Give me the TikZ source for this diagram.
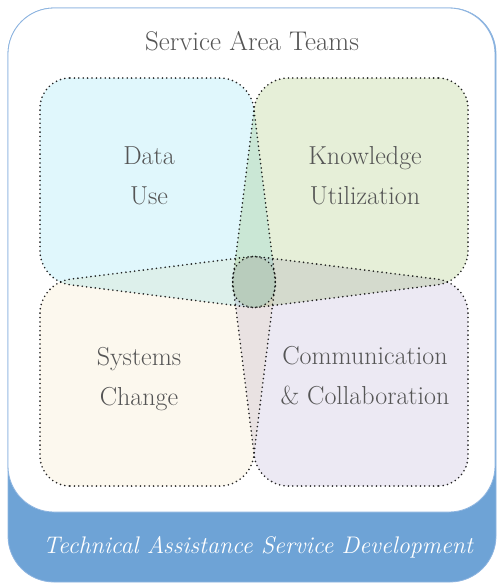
\documentclass[tikz,border=0pt]{standalone}
\usepackage{tikz}
\definecolor{band}{HTML}{6EA3D6}
\definecolor{rim}{HTML}{8DB4E0}
\definecolor{ink}{HTML}{555555}
\definecolor{datafill}{HTML}{E0F7FC}
\definecolor{knowfill}{HTML}{E6EFD8}
\definecolor{sysfill}{HTML}{FCF8EE}
\definecolor{commfill}{HTML}{ECE9F3}
\tikzset{
  frame/.style={fill=band, draw=rim, line width=0.8pt, rounded corners=46pt},
  panel/.style={fill=white, draw=rim, line width=0.8pt, rounded corners=46pt},
  petal/.style={draw=black!85, line width=1.8pt, line cap=round, dash pattern=on 0pt off 4.4pt, rounded corners=30pt},
  lab/.style={text=ink, font=\fontsize{26}{40}\selectfont, align=center, inner sep=0pt},
  head/.style={text=ink, font=\fontsize{27}{32}\selectfont, inner sep=0pt},
  foot/.style={text=white, font=\fontsize{24}{30}\selectfont\itshape, inner sep=0pt},
}

\begin{document}
\begin{tikzpicture}[x=1pt,y=-1pt]
  \useasboundingbox (0,0) rectangle (497,584);
  \draw[frame] (8,8) rectangle (496,582);
  \draw[panel] (8,8) rectangle (495,512);
  \node[head,anchor=base] (title) at (252,50) {Service Area Teams};
  \begin{scope}[blend group=multiply]
    \draw[petal,fill=datafill] (40,78)--(250,78)--(279,311)--(40,281)--cycle;
    \draw[petal,fill=knowfill] (468,78)--(258,78)--(229,311)--(468,281)--cycle;
    \draw[petal,fill=sysfill] (40,486)--(250,486)--(279,253)--(40,283)--cycle;
    \draw[petal,fill=commfill] (468,486)--(258,486)--(229,253)--(468,283)--cycle;
  \end{scope}
  \foreach \N/\X/\Y/\T in {data/149/176/{Data\\Use},
      know/365/176/{Knowledge\\Utilization},
      sys/139/379/{Systems\\Change},
      comm/365/376/{Communication\\\& Collaboration}}
    \node[lab] (\N) at (\X,\Y) {\T};
  \node[foot,anchor=base] (tasd) at (258,553) {Technical Assistance Service Development};
\end{tikzpicture}
\end{document}
